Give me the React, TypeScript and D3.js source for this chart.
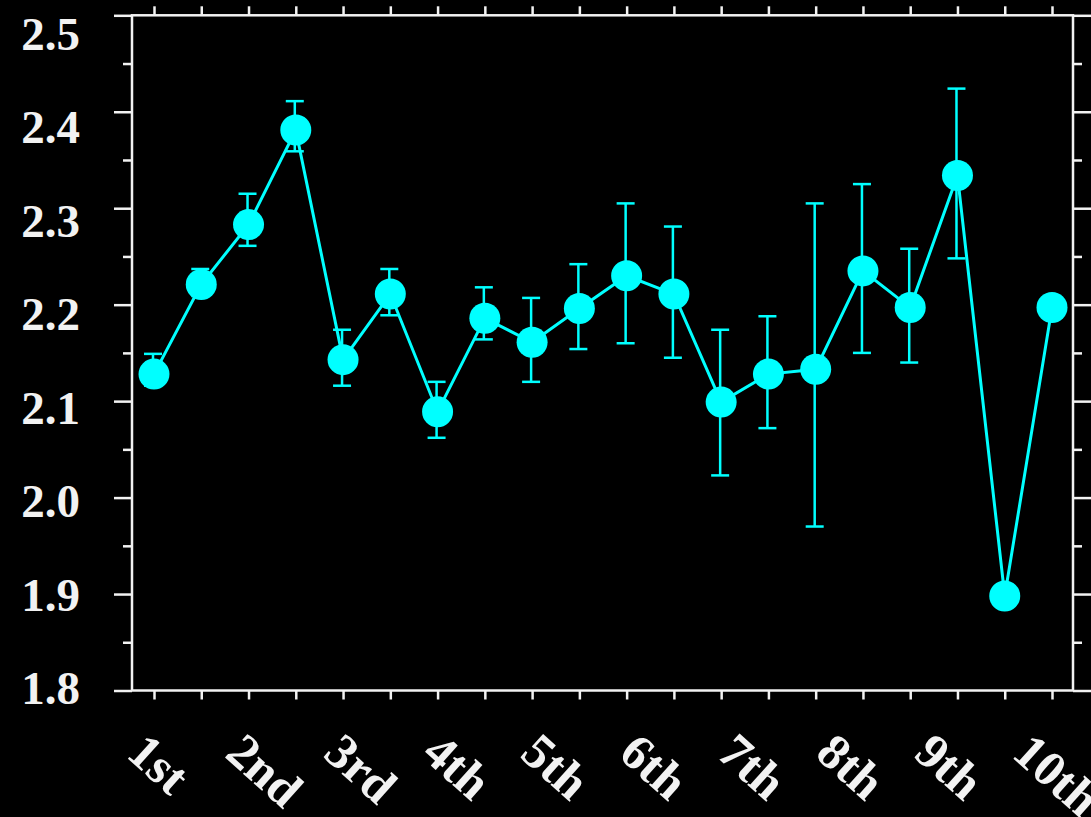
import React, { createRef, Component } from "react";
import * as d3 from "d3";

// chart data
const categories = ["1st", "2nd", "3rd", "4th", "5th", "6th", "7th", "8th", "9th", "10th"];
const means = [2.128, 2.221, 2.283, 2.381, 2.143, 2.211, 2.089, 2.186, 2.161, 2.196,
  2.230, 2.211, 2.099, 2.128, 2.133, 2.235, 2.197, 2.334, 1.898, 2.197];
const upper = [2.149, 2.237, 2.315, 2.411, 2.174, 2.237, 2.120, 2.218, 2.207, 2.242,
  2.305, 2.281, 2.174, 2.188, 2.305, 2.325, 2.258, 2.424, null, null];
const lower = [2.116, 2.209, 2.261, 2.359, 2.116, 2.189, 2.062, 2.164, 2.120, 2.154,
  2.160, 2.145, 2.023, 2.072, 1.970, 2.150, 2.140, 2.248, null, null];
const yTicks = [1.8, 1.9, 2.0, 2.1, 2.2, 2.3, 2.4, 2.5];
const yMinorTicks = [1.85, 1.95, 2.05, 2.15, 2.25, 2.35, 2.45];

const W = 1091;
const H = 817;
const CYAN = "#00ffff";
const AXIS = "#f2f2f2";
const FONT = "'Liberation Serif', 'Times New Roman', serif";

class ErrorPlot extends Component {
  ref = createRef<SVGSVGElement>();

  componentDidMount() {
    const svg = d3.select(this.ref.current);
    svg.selectAll("*").remove();

    const left = 132, right = 1073, top = 15.3, bottom = 690.5;

    const x = d3.scalePoint<number>()
      .domain(d3.range(means.length))
      .range([154, 1052]);
    const y = d3.scaleLinear().domain([1.8, 2.5]).range([bottom, top]);
    // the tick labels sit a little off the ticks in the original
    const yLabel = d3.scaleLinear().domain([1.8, 2.5]).range([688, 34]);
    const xLabel = d3.scaleLinear().domain([0, categories.length - 1]).range([125, 1010.6]);

    const styleAxis = (g) => {
      g.select(".domain").remove();
      g.selectAll("line").attr("stroke", AXIS).attr("stroke-width", 2.5);
      g.selectAll("text").remove();
    };

    // frame
    svg.append("rect")
      .attr("x", left).attr("y", top)
      .attr("width", right - left).attr("height", bottom - top)
      .attr("fill", "none")
      .attr("stroke", AXIS)
      .attr("stroke-width", 2.5);

    svg.append("g").attr("transform", `translate(${left},0)`)
      .call(d3.axisLeft(y).tickValues(yTicks).tickSize(18)).call(styleAxis);
    svg.append("g").attr("transform", `translate(${left},0)`)
      .call(d3.axisLeft(y).tickValues(yMinorTicks).tickSize(9)).call(styleAxis);
    svg.append("g").attr("transform", `translate(${right},0)`)
      .call(d3.axisRight(y).tickValues(yTicks).tickSize(18)).call(styleAxis);
    svg.append("g").attr("transform", `translate(${right},0)`)
      .call(d3.axisRight(y).tickValues(yMinorTicks).tickSize(9)).call(styleAxis);
    svg.append("g").attr("transform", `translate(0,${bottom})`)
      .call(d3.axisBottom(x).tickSize(9)).call(styleAxis);
    svg.append("g").attr("transform", `translate(0,${top})`)
      .call(d3.axisTop(x).tickSize(9)).call(styleAxis);

    svg.append("g")
      .selectAll("text")
      .data(yTicks)
      .enter()
      .append("text")
      .attr("x", 80)
      .attr("y", (d) => yLabel(d))
      .attr("dy", "0.34em")
      .attr("text-anchor", "end")
      .attr("fill", AXIS)
      .attr("font-family", FONT)
      .attr("font-weight", "bold")
      .attr("font-size", 47)
      .text((d) => d.toFixed(1));

    svg.append("g")
      .selectAll("text")
      .data(categories)
      .enter()
      .append("text")
      .attr("transform", (d, i) => `translate(${xLabel(i)},756) rotate(42)`)
      .attr("fill", AXIS)
      .attr("font-family", FONT)
      .attr("font-weight", "bold")
      .attr("font-size", 50)
      .text((d) => d);

    // connecting line
    const line = d3.line<number>()
      .x((d, i) => x(i))
      .y((d) => y(d));
    svg.append("path")
      .datum(means)
      .attr("d", line)
      .attr("fill", "none")
      .attr("stroke", CYAN)
      .attr("stroke-width", 3);

    // error bars
    const bars = svg.append("g")
      .attr("stroke", CYAN)
      .attr("stroke-width", 2.5)
      .selectAll("g")
      .data(means.map((m, i) => ({ i, hi: upper[i], lo: lower[i] })).filter((d) => d.hi != null))
      .enter()
      .append("g");
    bars.append("line")
      .attr("x1", (d) => x(d.i) - 1).attr("x2", (d) => x(d.i) - 1)
      .attr("y1", (d) => y(d.lo)).attr("y2", (d) => y(d.hi));
    bars.append("line")
      .attr("x1", (d) => x(d.i) - 10).attr("x2", (d) => x(d.i) + 8)
      .attr("y1", (d) => y(d.hi)).attr("y2", (d) => y(d.hi));
    bars.append("line")
      .attr("x1", (d) => x(d.i) - 10).attr("x2", (d) => x(d.i) + 8)
      .attr("y1", (d) => y(d.lo)).attr("y2", (d) => y(d.lo));

    svg.append("g")
      .selectAll("circle")
      .data(means)
      .enter()
      .append("circle")
      .attr("cx", (d, i) => x(i))
      .attr("cy", (d) => y(d))
      .attr("r", 15.5)
      .attr("fill", CYAN);
  }

  render() {
    return (
      <svg
        ref={this.ref}
        width={W}
        height={H}
        style={{ position: "absolute", left: 0, top: 0, background: "#000", display: "block" }}
      />
    );
  }
}

export default function App() {
  return <ErrorPlot />;
}
